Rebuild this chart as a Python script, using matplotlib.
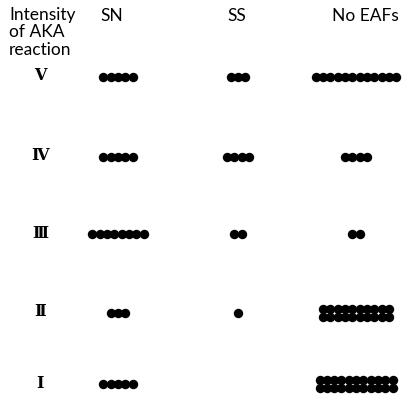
import matplotlib
matplotlib.use("Agg")
import matplotlib.pyplot as plt
import math

# Data
groups = ["SN", "SS", "No EAFs"]
intensities = ["Ⅴ", "Ⅳ", "Ⅲ", "Ⅱ", "Ⅰ"]
sn_counts = [5, 5, 8, 3, 5]
ss_counts = [3, 4, 2, 1, 0]
no_eaf_counts = [12, 4, 2, 20, 22]

counts = [sn_counts, ss_counts, no_eaf_counts]

W, H = 403, 400
fig = plt.figure(figsize=(W / 100, H / 100), dpi=100)
ax = fig.add_axes([0, 0, 1, 1])
ax.set_xlim(0, W)
ax.set_ylim(H, 0)
ax.axis("off")

col_x = [118, 238, 356]
head_x = [112, 237, 365]
row_y = [77, 157, 234, 313, 384]
spacing = 7.3
row_gap = 8.5
max_per_row = 12
dot_size = 46

font = ["Lato", "DejaVu Sans"]

ax.text(9, 7, "Intensity\nof AKA\nreaction", ha="left", va="top", fontsize=12.5,
        family=font, linespacing=1.1)
for hx, g in zip(head_x, groups):
    ax.text(hx, 16, g, ha="center", va="center", fontsize=12.5, family=font)

for ry, lab in zip(row_y, intensities):
    ax.text(40, ry - 1, lab, ha="center", va="center", fontsize=11.5,
            family=["DejaVu Serif", "DejaVu Sans"], fontweight="bold")

for cx, series in zip(col_x, counts):
    for ry, n in zip(row_y, series):
        if n <= 0:
            continue
        nrows = math.ceil(n / max_per_row)
        per = [n // nrows + (1 if i < n % nrows else 0) for i in range(nrows)]
        y0 = ry - (nrows - 1) * row_gap / 2
        for r, k in enumerate(per):
            xs = [cx + (i - (k - 1) / 2) * spacing for i in range(k)]
            ys = [y0 + r * row_gap] * k
            ax.scatter(xs, ys, s=dot_size, color="black", linewidths=0)

fig.savefig("out.png", dpi=100)
